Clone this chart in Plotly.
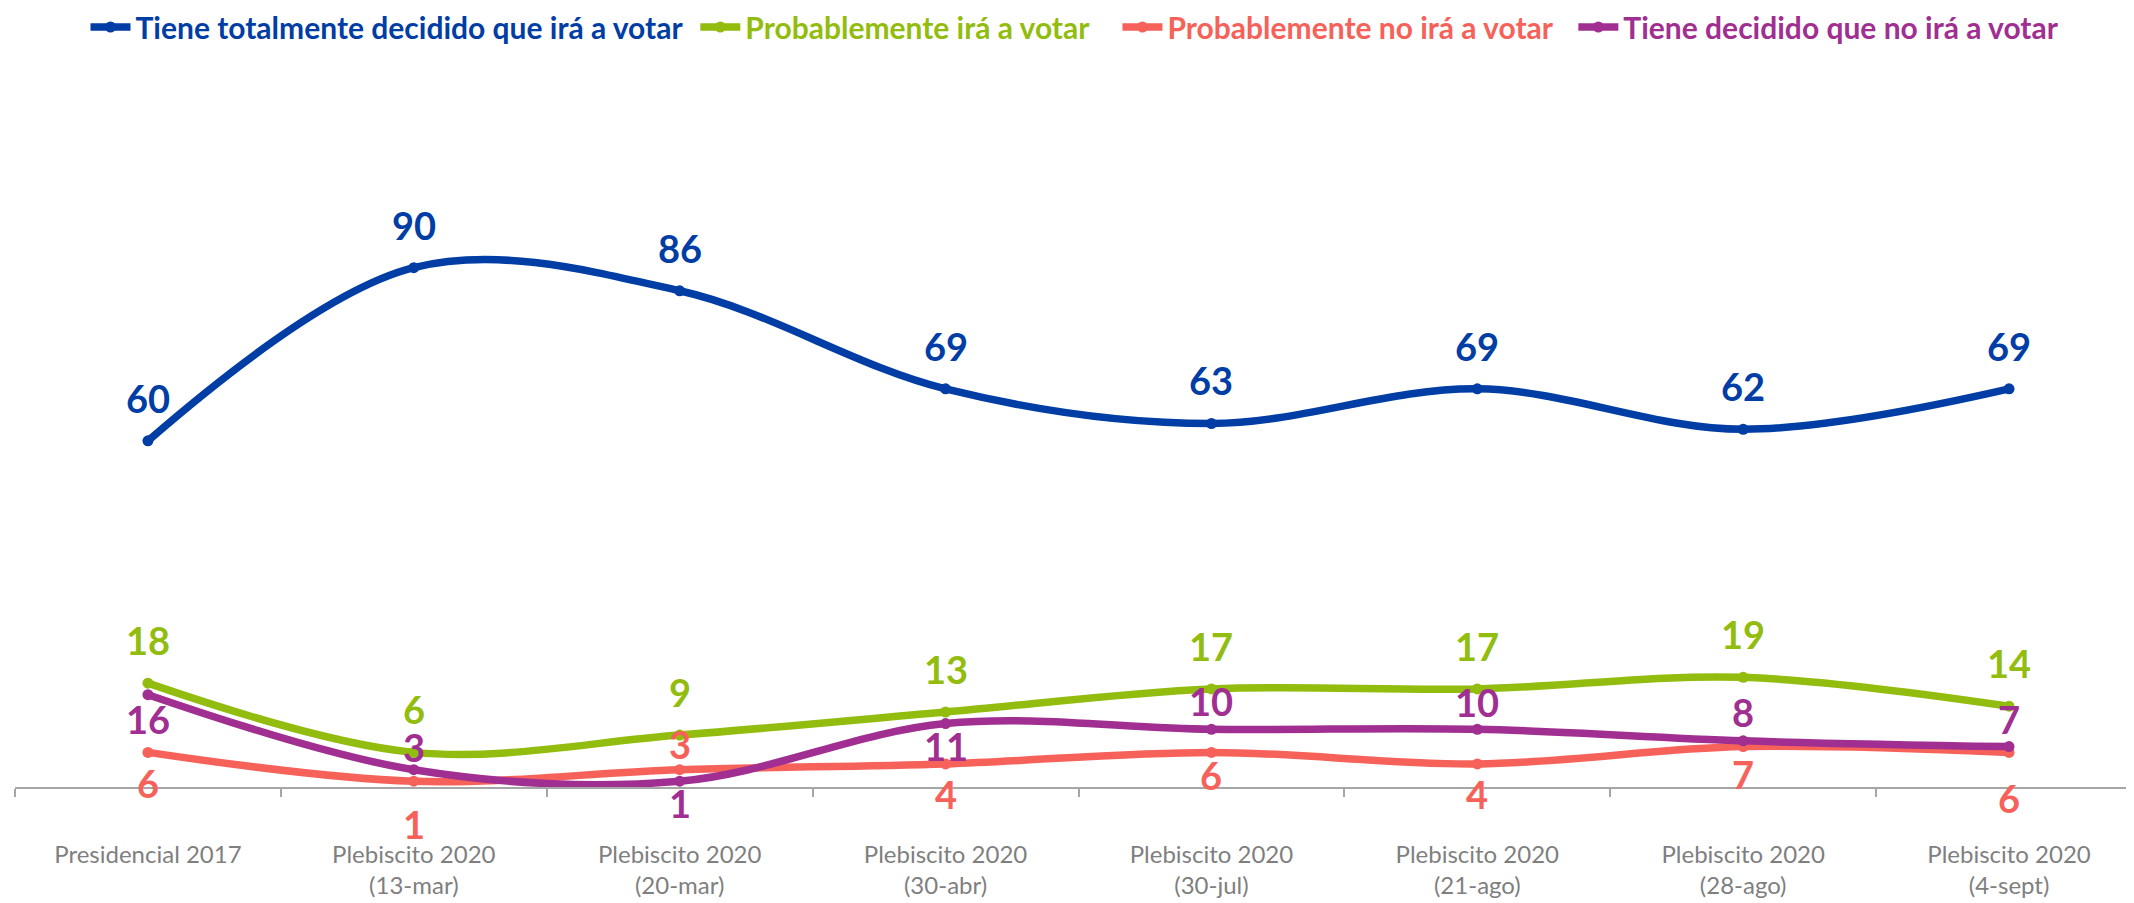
import plotly.graph_objects as go

categories = ["Presidencial 2017", "Plebiscito 2020<br>(13-mar)", "Plebiscito 2020<br>(20-mar)",
              "Plebiscito 2020<br>(30-abr)", "Plebiscito 2020<br>(30-jul)", "Plebiscito 2020<br>(21-ago)",
              "Plebiscito 2020<br>(28-ago)", "Plebiscito 2020<br>(4-sept)"]

series_names = ["Tiene totalmente decidido que irá a votar", "Probablemente irá a votar",
                "Probablemente no irá a votar", "Tiene decidido que no irá a votar"]

totalmente = [60, 90, 86, 69, 63, 69, 62, 69]
probable_si = [18, 6, 9, 13, 17, 17, 19, 14]
probable_no = [6, 1, 3, 4, 6, 4, 7, 6]
decidido_no = [16, 3, 1, 11, 10, 10, 8, 7]

# style: colours, legend padding and label offsets (px, + above / - below)
colors = ["#003DA5", "#92BC0E", "#F6615A", "#A02F91"]
legend_pad = ["&nbsp;", "&nbsp;&nbsp;&nbsp;", "&nbsp;&nbsp;", "&nbsp;"]
label_shift = [
    [43] * 8,
    [43] * 8,
    [-31, -43, 26, -30, -23, -30, -27, -46],
    [-24, 23, -22, -22, 28, 27, 29, 28],
]

values = [totalmente, probable_si, probable_no, decidido_no]

fig = go.Figure()
for name, vals, col, pad in zip(series_names, values, colors, legend_pad):
    fig.add_trace(go.Scatter(
        x=categories, y=vals, mode="lines+markers",
        name=f"<b><span style='color:{col}'>{name}</span></b>{pad}",
        line=dict(color=col, width=7.5, shape="spline", smoothing=1.0),
        marker=dict(color=col, size=11),
    ))

annotations = []
for vals, col, shifts in zip(values, colors, label_shift):
    for c, v, s in zip(categories, vals, shifts):
        annotations.append(dict(
            x=c, y=v, text=f"<b>{v}</b>", showarrow=False, yshift=s,
            font=dict(family="Lato", size=38, color=col),
        ))

H, W = 903, 2134
mt, mb = 62, 124
px_per_unit = 5.77
plot_h = H - mt - mb
ymax = plot_h / px_per_unit

fig.update_layout(
    width=W, height=H,
    margin=dict(l=7, r=0, t=mt, b=mb, autoexpand=False),
    plot_bgcolor="white", paper_bgcolor="white",
    font=dict(family="Lato"),
    showlegend=True,
    legend=dict(orientation="h", x=0.5, xanchor="center", y=1 + (mt - 19) / plot_h, yanchor="middle",
                font=dict(family="Lato", size=30),
                itemwidth=40, tracegroupgap=0, bgcolor="rgba(0,0,0,0)"),
    annotations=annotations,
    xaxis=dict(type="category", range=[-0.5, 7.5], showgrid=False, zeroline=False,
               automargin=False,
               showline=True, linecolor="#A6A6A6", linewidth=2,
               ticks="outside", tickson="boundaries", ticklen=8, tickcolor="#A6A6A6", tickwidth=1.5,
               tickfont=dict(family="Lato", size=24, color="#7F7F7F"),
               ticklabelstandoff=45),
    yaxis=dict(range=[0, ymax], visible=False, showgrid=False, zeroline=False, automargin=False),
)

fig.write_html("out.html")
